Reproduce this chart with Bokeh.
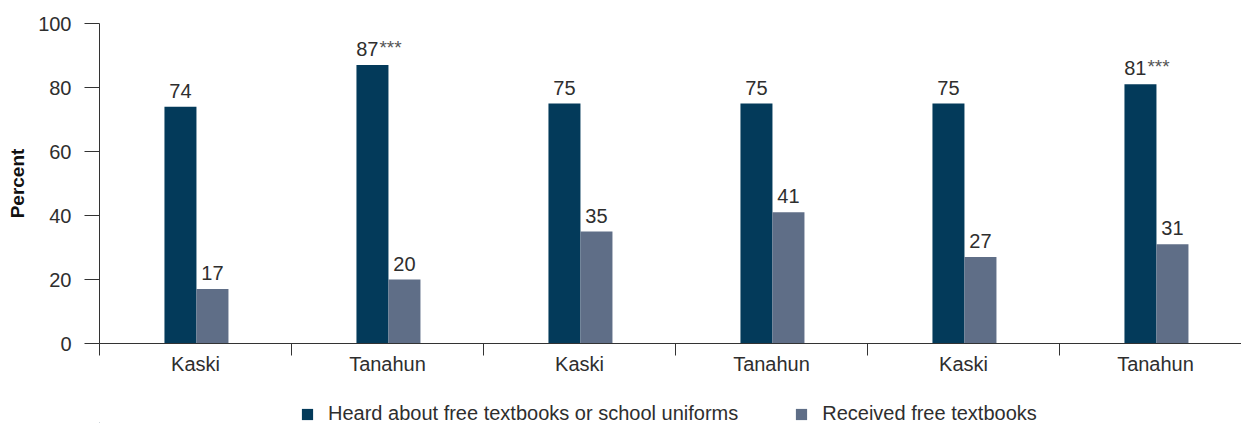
from bokeh.plotting import figure
from bokeh.layouts import column
from bokeh.models import FixedTicker, Range1d, ColumnDataSource, Legend, LegendItem
from bokeh.core.properties import value
from bokeh.embed import file_html
from bokeh.resources import INLINE

# ---- data ----
categories = ["Kaski", "Tanahun", "Kaski", "Tanahun", "Kaski", "Tanahun"]
heard = [74, 87, 75, 75, 75, 81]
received = [17, 20, 35, 41, 27, 31]
heard_sig = ["", "***", "", "", "", "***"]
series_names = ["Heard about free textbooks or school uniforms", "Received free textbooks"]
y_ticks = [0, 20, 40, 60, 80, 100]

DARK = "#033A5A"
LIGHT = "#5F6E87"
TXT = "#2E2E2E"
FONT = "Liberation Sans"

n = len(categories)
centers = [i + 0.5 for i in range(n)]
bw = 1 / 6
shift = 0.005
x_dark = [c - bw / 2 + shift for c in centers]
x_light = [c + bw / 2 + shift for c in centers]

src_d = ColumnDataSource(dict(x=x_dark, top=heard))
src_l = ColumnDataSource(dict(x=x_light, top=received, lbl=[str(v) for v in received]))

plain_idx = [i for i in range(n) if not heard_sig[i]]
star_idx = [i for i in range(n) if heard_sig[i]]
src_d_plain = ColumnDataSource(dict(x=[x_dark[i] for i in plain_idx], y=[heard[i] for i in plain_idx],
                                    t=[str(heard[i]) for i in plain_idx]))
src_d_star = ColumnDataSource(dict(x=[x_dark[i] for i in star_idx], y=[heard[i] for i in star_idx],
                                   t=[str(heard[i]) for i in star_idx], s=[heard_sig[i] for i in star_idx]))

p = figure(width=1241, height=391, x_range=Range1d(0, 1142 / 192), y_range=Range1d(0, 100),
           output_backend="svg", toolbar_location=None,
           min_border_left=99, min_border_right=0, min_border_top=23, min_border_bottom=48)

r1 = p.vbar(x="x", top="top", bottom=0, width=bw, source=src_d, fill_color=DARK, line_color=None)
r2 = p.vbar(x="x", top="top", bottom=0, width=bw, source=src_l, fill_color=LIGHT, line_color=None)

common = dict(text_font=value(FONT), text_font_size="20px", text_color=TXT)
p.text(x="x", y="y", text="t", source=src_d_plain, text_align="center", text_baseline="alphabetic",
       y_offset=-16, **common)
p.text(x="x", y="top", text="lbl", source=src_l, text_align="center", text_baseline="alphabetic",
       y_offset=-16, **common)
p.text(x="x", y="y", text="t", source=src_d_star, text_align="right", text_baseline="alphabetic",
       x_offset=6, y_offset=-16, **common)
p.text(x="x", y="y", text="s", source=src_d_star, text_align="left", text_baseline="top",
       x_offset=7, y_offset=-28, text_font=value(FONT), text_font_size="19px", text_color="#555555")

# x axis
p.xaxis.ticker = FixedTicker(ticks=centers, minor_ticks=list(range(n + 1)))
p.xaxis.major_label_overrides = {c: cat for c, cat in zip(centers, categories)}
p.xaxis.major_tick_out = 0
p.xaxis.major_tick_in = 0
p.xaxis.minor_tick_out = 12
p.xaxis.minor_tick_in = 0
p.xaxis.major_label_standoff = -3

# y axis
p.yaxis.ticker = FixedTicker(ticks=y_ticks, minor_ticks=[])
p.yaxis.major_tick_out = 15
p.yaxis.major_tick_in = 0
p.yaxis.minor_tick_out = 0
p.yaxis.minor_tick_in = 0
p.yaxis.major_label_standoff = 13
p.yaxis.axis_label = "Percent"
p.yaxis.axis_label_text_font = FONT
p.yaxis.axis_label_text_font_size = "19px"
p.yaxis.axis_label_text_font_style = "bold"
p.yaxis.axis_label_text_color = "#111111"
p.yaxis.axis_label_standoff = 7

for ax in (p.xaxis, p.yaxis):
    ax.axis_line_color = "#333333"
    ax.major_tick_line_color = "#333333"
    ax.minor_tick_line_color = "#333333"
    ax.major_label_text_font = FONT
    ax.major_label_text_font_size = "20px"
    ax.major_label_text_color = TXT

p.grid.visible = False
p.outline_line_color = None

# ---- legend strip ----
p2 = figure(width=1241, height=32, x_range=Range1d(0, 1241), y_range=Range1d(0, 32),
            output_backend="svg", toolbar_location=None, x_axis_type=None, y_axis_type=None,
            min_border=0)
p2.grid.visible = False
p2.outline_line_color = None
lr1 = p2.vbar(x=[-100], top=[1], width=1, fill_color=DARK, line_color=None)
lr2 = p2.vbar(x=[-100], top=[1], width=1, fill_color=LIGHT, line_color=None)

legend = Legend(items=[LegendItem(label=series_names[0], renderers=[lr1]),
                       LegendItem(label=series_names[1], renderers=[lr2])],
                location=(201, -2), orientation="horizontal",
                glyph_width=14, glyph_height=14, label_standoff=14, spacing=56,
                padding=0, margin=0, border_line_alpha=0, background_fill_alpha=0,
                label_text_font=FONT, label_text_font_size="20px", label_text_color=TXT,
                label_height=20)
p2.add_layout(legend, "center")

layout = column(p, p2, spacing=0)
open("out.html", "w").write(file_html(layout, INLINE))
